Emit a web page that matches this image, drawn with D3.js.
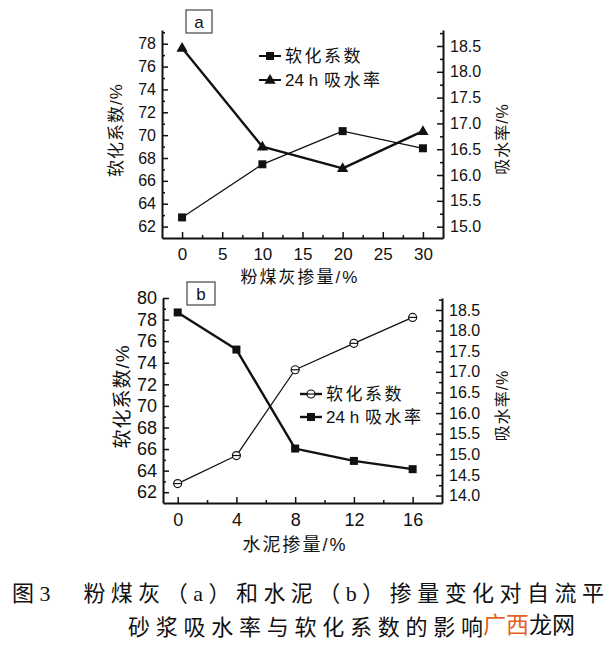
<!DOCTYPE html>
<html><head><meta charset="utf-8">
<script src="https://cdn.jsdelivr.net/npm/d3@7"></script>
<style>
html,body{margin:0;padding:0;background:#fff;}
svg{display:block;}
text{fill:#111;}
</style></head>
<body>
<script>
// ---------- data ----------
const flyAsh = [0, 10, 20, 30];
const softA = [62.8, 67.45, 70.35, 68.85];
const absorbA = [18.46, 16.55, 16.13, 16.85];
const cement = [0, 4, 8, 12, 16];
const softB = [62.8, 65.4, 73.35, 75.8, 78.2];
const absorbB = [18.44, 17.54, 15.14, 14.84, 14.64];
const xTicksA = [0, 5, 10, 15, 20, 25, 30];
const xTicksB = [0, 4, 8, 12, 16];
const leftTicksA = [62, 64, 66, 68, 70, 72, 74, 76, 78];
const leftTicksB = [62, 64, 66, 68, 70, 72, 74, 76, 78, 80];
const rightTicksA = [15.0, 15.5, 16.0, 16.5, 17.0, 17.5, 18.0, 18.5];
const rightTicksB = [14.0, 14.5, 15.0, 15.5, 16.0, 16.5, 17.0, 17.5, 18.0, 18.5];
const legendA = [["", "软化系数"], ["24 h", "吸水率"]];
const legendB = [["", "软化系数"], ["24 h", "吸水率"]];
const caption1 = "图3　粉煤灰（a）和水泥（b）掺量变化对自流平";
const caption2 = "砂浆吸水率与软化系数的影响";

const W = 614, H = 653;
const FONT = "'Liberation Sans', Arial, 'Noto Sans CJK SC', sans-serif";
const svg = d3.select("body").append("svg").attr("width", W).attr("height", H)
  .style("font-family", FONT);

function range(a, b, s) { const r = []; for (let v = a; v <= b + 1e-9; v += s) r.push(+v.toFixed(3)); return r; }

function panel(cfg) {
  const g = svg.append("g");
  const x = d3.scaleLinear(cfg.xDom, [cfg.L, cfg.R]);
  const yl = d3.scaleLinear(cfg.ylDom, [cfg.B, cfg.T]);
  const yr = d3.scaleLinear(cfg.yrDom, [cfg.B, cfg.T]);

  const minorStyle = s => s.call(a => a.select(".domain").remove()).selectAll("line").attr("stroke", "#111").attr("stroke-width", 1.5);
  g.append("g").attr("transform", `translate(${cfg.L},0)`)
    .call(d3.axisLeft(yl).tickValues(cfg.lMinor).tickSize(-3).tickFormat("")).call(minorStyle);
  g.append("g").attr("transform", `translate(${cfg.R},0)`)
    .call(d3.axisRight(yr).tickValues(cfg.rMinor).tickSize(-3).tickFormat("")).call(minorStyle);
  g.append("g").attr("transform", `translate(0,${cfg.B})`)
    .call(d3.axisBottom(x).tickValues(cfg.xMinor).tickSize(-3).tickFormat("")).call(minorStyle);

  const style = (s, fs) => {
    s.select(".domain").attr("stroke", "#111").attr("stroke-width", 2);
    s.selectAll("line").attr("stroke", "#111").attr("stroke-width", 1.5);
    s.selectAll("text").attr("font-size", fs).attr("fill", "#111").style("font-family", FONT);
  };
  g.append("g").attr("transform", `translate(${cfg.L},0)`)
    .call(d3.axisLeft(yl).tickValues(cfg.lTicks).tickSize(-6).tickSizeOuter(0).tickPadding(6).tickFormat(d3.format("d")))
    .call(s => style(s, cfg.lFs));
  g.append("g").attr("transform", `translate(${cfg.R},0)`)
    .call(d3.axisRight(yr).tickValues(cfg.rTicks).tickSize(-6).tickSizeOuter(0).tickPadding(7).tickFormat(d3.format(".1f")))
    .call(s => style(s, 16));
  g.append("g").attr("transform", `translate(0,${cfg.B})`)
    .call(d3.axisBottom(x).tickValues(cfg.xTicks).tickSize(-6).tickSizeOuter(0).tickPadding(10).tickFormat(d3.format("d")))
    .call(s => style(s, cfg.xFs));

  g.append("text").attr("transform", `translate(${cfg.ltX},${(cfg.T + cfg.B) / 2 - 4}) rotate(-90)`)
    .attr("text-anchor", "middle").attr("dominant-baseline", "central")
    .attr("font-size", cfg.ltFs).attr("letter-spacing", 1).text("软化系数/%");
  g.append("text").attr("transform", `translate(${cfg.rtX},${(cfg.T + cfg.B) / 2 + 5}) rotate(-90)`)
    .attr("text-anchor", "middle").attr("dominant-baseline", "central")
    .attr("font-size", 16).attr("letter-spacing", 1).text("吸水率/%");
  g.append("text").attr("x", cfg.xtX).attr("y", cfg.xtY)
    .attr("text-anchor", "middle").attr("dominant-baseline", "central")
    .attr("font-size", cfg.xtFs).attr("letter-spacing", 2).text(cfg.xTitle);

  g.append("rect").attr("x", cfg.box[0]).attr("y", cfg.box[1]).attr("width", cfg.box[2]).attr("height", cfg.box[3])
    .attr("fill", "#fff").attr("stroke", "#444").attr("stroke-width", 1.2);
  g.append("text").attr("x", cfg.box[0] + cfg.box[2] / 2).attr("y", cfg.box[1] + cfg.box[3] / 2 + 1)
    .attr("text-anchor", "middle").attr("dominant-baseline", "central").attr("font-size", 17).text(cfg.label);

  return { g, x, yl, yr };
}

function marker(g, type, cx, cy) {
  if (type === "square") {
    g.append("rect").attr("x", cx - 4).attr("y", cy - 4).attr("width", 8).attr("height", 8).attr("fill", "#111");
  } else if (type === "triangle") {
    g.append("path").attr("d", d3.symbol(d3.symbolTriangle, 55)()).attr("transform", `translate(${cx},${cy + 0.5})`).attr("fill", "#111");
  } else {
    g.append("circle").attr("cx", cx).attr("cy", cy).attr("r", 4).attr("fill", "#fff").attr("stroke", "#111").attr("stroke-width", 1.2);
    g.append("line").attr("x1", cx - 4).attr("x2", cx + 4).attr("y1", cy).attr("y2", cy).attr("stroke", "#111").attr("stroke-width", 1.2);
  }
}

function series(p, xs, ys, yScale, width, type) {
  const line = d3.line().x((d, i) => p.x(xs[i])).y(d => yScale(d));
  p.g.append("path").datum(ys).attr("d", line).attr("fill", "none").attr("stroke", "#111")
    .attr("stroke-width", width).attr("stroke-linejoin", "round");
  ys.forEach((v, i) => marker(p.g, type, p.x(xs[i]), yScale(v)));
}

function legend(g, items, x0, ys, fs) {
  items.forEach((it, i) => {
    g.append("line").attr("x1", x0).attr("x2", x0 + 22).attr("y1", ys[i]).attr("y2", ys[i])
      .attr("stroke", "#111").attr("stroke-width", it.w);
    marker(g, it.type, x0 + 11, ys[i]);
    const t = g.append("text").attr("x", x0 + 26).attr("y", ys[i]).attr("dominant-baseline", "central")
      .attr("font-size", fs);
    if (it.name[0]) t.append("tspan").text(it.name[0]);
    t.append("tspan").attr("dx", it.name[0] ? 6 : 0).attr("letter-spacing", 2.5).text(it.name[1]);
  });
}

// ---------- panel a ----------
const pa = panel({
  L: 162, R: 443, T: 30, B: 238,
  xDom: [-2.5, 32.5], ylDom: [61, 79.2], yrDom: [14.78, 18.81],
  xTicks: xTicksA, xMinor: range(2.5, 27.5, 5),
  lTicks: leftTicksA, lMinor: range(63, 79, 2),
  rTicks: rightTicksA, rMinor: range(15.25, 18.75, 0.5),
  lFs: 16, xFs: 17, ltX: 116, ltFs: 17, rtX: 502,
  xtX: 300, xtY: 277, xtFs: 17, xTitle: "粉煤灰掺量/%",
  box: [186, 10, 26, 23], label: "a"
});
series(pa, flyAsh, softA, pa.yl, 1.3, "square");
series(pa, flyAsh, absorbA, pa.yr, 2.4, "triangle");
legend(pa.g, [{ name: legendA[0], type: "square", w: 2 }, { name: legendA[1], type: "triangle", w: 2 }],
  259, [56, 80], 17);

// ---------- panel b ----------
const pb = panel({
  L: 163, R: 442, T: 298, B: 503,
  xDom: [-1, 18], ylDom: [61, 80], yrDom: [13.82, 18.79],
  xTicks: xTicksB, xMinor: range(2, 14, 4),
  lTicks: leftTicksB, lMinor: range(63, 79, 2),
  rTicks: rightTicksB, rMinor: range(14.25, 18.75, 0.5),
  lFs: 18, xFs: 18, ltX: 122, ltFs: 19, rtX: 502,
  xtX: 295, xtY: 545, xtFs: 18, xTitle: "水泥掺量/%",
  box: [187, 282, 28, 23], label: "b"
});
series(pb, cement, softB, pb.yl, 1.3, "circle");
series(pb, cement, absorbB, pb.yr, 2.4, "square");
legend(pb.g, [{ name: legendB[0], type: "circle", w: 2.4 }, { name: legendB[1], type: "square", w: 2.4 }],
  300, [394, 417], 17);

// ---------- caption ----------
const SERIF = "'Liberation Serif', 'DejaVu Serif', 'Noto Sans CJK SC', serif";
svg.append("text").attr("x", 12).attr("y", 601).attr("font-size", 22).style("font-family", SERIF)
  .attr("textLength", 592).attr("lengthAdjust", "spacing").text(caption1);
svg.append("text").attr("x", 128).attr("y", 635).attr("font-size", 22).style("font-family", SERIF)
  .attr("textLength", 355).attr("lengthAdjust", "spacing").text(caption2);
const wm = svg.append("text").attr("x", 483).attr("y", 633).attr("font-size", 23)
  .style("font-family", "'Noto Sans CJK SC', sans-serif");
wm.append("tspan").style("fill", "#e2621f").text("广西");
wm.append("tspan").style("fill", "#111").text("龙网");
</script>
</body></html>
